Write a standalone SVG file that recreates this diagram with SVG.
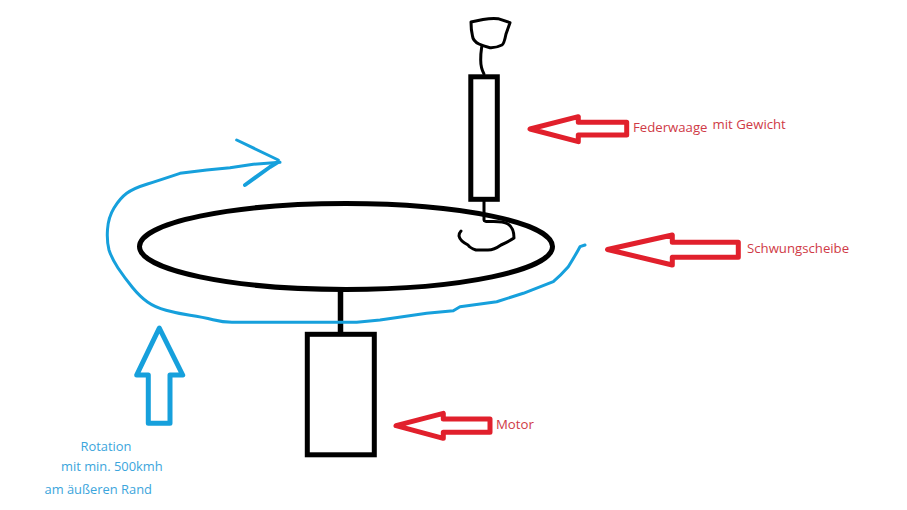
<svg xmlns="http://www.w3.org/2000/svg" width="907" height="510" viewBox="0 0 907 510">
<style>
.k{fill:none;stroke:#000;stroke-linejoin:round;stroke-linecap:round}
.b{fill:none;stroke:#16a0dc;stroke-linejoin:round;stroke-linecap:round}
.ra{fill:none;stroke:#e1202c;stroke-width:5;stroke-linejoin:round}
.r{font-family:"Open Sans","Noto Sans",sans-serif;font-size:13.2px;fill:#cf3a46}
.t{font-family:"Open Sans","Noto Sans",sans-serif;font-size:12.9px;fill:#3ba5dc}
</style>
<rect width="907" height="510" fill="#fff"/>
<g id="connectors">
<path class="k" stroke-width="5.5" d="M340.5 290V333" style="stroke-linecap:butt"/>
<path class="k" stroke-width="3" d="M481.7 47Q480.5 55 480.7 60Q480.7 68 484 74"/>
<path class="k" stroke-width="3" d="M484 201V220Q484 222 490 221.5Q503 221 508 224Q514 228 514 238Q508 242 501 245Q494 250 488 250L476 250Q470 248 468 245Q460 241 459 236Q459 233 461 231"/>
</g>
<g id="gewicht">
<path class="k" stroke-width="3" d="M471 22L483 19.5Q492 18 498 18.7L510 22.7L506 34Q504 44 502 45Q496 48 490 47.7Q483 46 479 44Q473 41 472.5 36Q471 30 471 22Z"/>
</g>
<g id="federwaage">
<rect class="k" x="470.8" y="76.8" width="26.5" height="122.5" stroke-width="5" style="stroke-linejoin:miter"/>
</g>
<g id="schwungscheibe">
<ellipse class="k" cx="346" cy="246.5" rx="206.5" ry="43" stroke-width="5"/>
</g>
<g id="motor">
<rect class="k" x="307.3" y="334.3" width="67" height="120.5" stroke-width="5" style="stroke-linejoin:miter"/>
</g>
<g id="rotation">
<path class="b" stroke-width="3" d="M280 162.3L253.3 164.3L230 167.7L206.7 170L180 173.3Q160 180 146.7 184.2Q133.3 188.3 126.7 193.3Q120 198.3 114 208Q108.3 217.3 107.5 229.5Q106.7 241.7 109 250Q111.7 258.3 118 268Q125 278.3 132.5 287.5Q140 296.7 147.5 302Q155 307.3 166 310.3Q176.7 313.3 190 315.3Q203.3 317.3 213 319.8Q223 322.3 232 322.3L356.7 322.3L380 320L426.7 313.3L453.3 310.7L460 306.7L496.7 301.7L523.3 293.3L553.3 281.7Q561 275 568.3 266.7Q575 256 580 246.7L585 245"/>
<path class="b" stroke-width="3" d="M236.7 140L278.3 160"/>
<path class="b" stroke-width="4" d="M245 185L270 167L278 162"/>
<path class="b" stroke-width="5" d="M159.3 328L182.7 375H170V423.3H148.3V375H136.7Z"/>
<text class="t" x="80.5" y="451">Rotation</text>
<text class="t" x="61" y="471">mit min. 500kmh</text>
<text class="t" x="44.5" y="494">am äußeren Rand</text>
</g>
<g id="label-federwaage">
<path class="ra" d="M530 129L578.3 116.7V122.3H626.7V135H578.3V141.7Z"/>
<text class="r" x="633" y="132">Federwaage</text>
<text class="r" x="712.5" y="129">mit Gewicht</text>
</g>
<g id="label-schwungscheibe">
<path class="ra" d="M607.5 249.5L672.3 235V242.3H738.3V257.3H672.3V265Z"/>
<text class="r" x="747" y="253">Schwungscheibe</text>
</g>
<g id="label-motor">
<path class="ra" d="M396 425.7L443.3 413.3V419H490V432.3H443.3V438.3Z"/>
<text class="r" x="496" y="429">Motor</text>
</g>
</svg>
